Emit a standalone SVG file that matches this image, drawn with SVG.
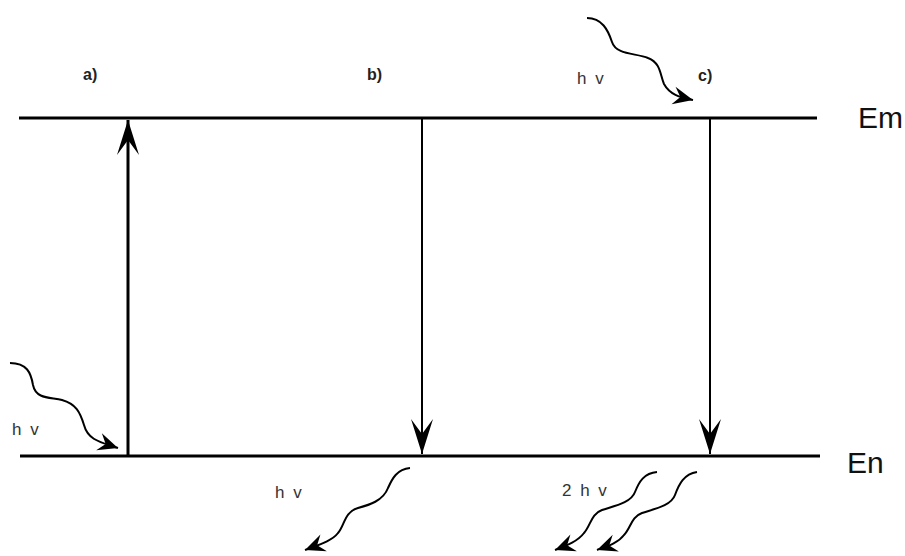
<svg xmlns="http://www.w3.org/2000/svg" width="905" height="556" viewBox="0 0 905 556">
<style>
.lvl{stroke:#000;stroke-width:3;fill:none}
.tr{stroke:#000;fill:none}
.wave{stroke:#000;stroke-width:2;fill:none;marker-end:url(#whead)}
.lab{font-family:"Liberation Sans",Arial,sans-serif;font-weight:bold;font-size:16px;fill:#222}
.hv{font-family:"Liberation Sans",Arial,sans-serif;font-size:17px;fill:#333;letter-spacing:2px}
.en{font-family:"Liberation Sans",Arial,sans-serif;font-size:30px;fill:#111}
</style>
<defs>
<marker id="vhead" viewBox="-36 -12 37 24" markerWidth="37" markerHeight="24" refX="0" refY="0" orient="auto" markerUnits="userSpaceOnUse">
<path d="M0,0 L-35,-11 L-20,0 L-35,11 Z" fill="#000"/>
</marker>
<marker id="whead" viewBox="-21 -10 22 20" markerWidth="22" markerHeight="20" refX="0" refY="0" orient="auto" markerUnits="userSpaceOnUse">
<path d="M0,0 L-20,-9 L-13,0 L-20,9 Z" fill="#000"/>
</marker>
</defs>
<rect width="905" height="556" fill="#fff"/>
<g id="level-Em">
<line class="lvl" x1="19" y1="118" x2="817" y2="118"/>
<text class="en" x="858" y="128">Em</text>
</g>
<g id="level-En">
<line class="lvl" x1="20" y1="456" x2="820" y2="456"/>
<text class="en" x="847" y="473">En</text>
</g>
<g id="label-a"><text class="lab" x="83" y="80">a)</text></g>
<g id="label-b"><text class="lab" x="367" y="80">b)</text></g>
<g id="label-c"><text class="lab" x="698" y="81">c)</text></g>
<g id="photon-labels">
<text class="hv" x="12" y="435">h v</text>
<text class="hv" x="577" y="84">h v</text>
<text class="hv" x="275" y="498">h v</text>
<text class="hv" x="562" y="496">2 h v</text>
</g>
<g id="connectors">
<line class="tr" stroke-width="3" x1="128" y1="456" x2="128" y2="120" marker-end="url(#vhead)"/>
<line class="tr" stroke-width="2" x1="422" y1="118" x2="422" y2="454" marker-end="url(#vhead)"/>
<line class="tr" stroke-width="2" x1="710" y1="118" x2="710" y2="454" marker-end="url(#vhead)"/>
<path class="wave" d="M10,363 C27,363 31,373 33,385 C36,400 52,397 62,400 C76,404 80,412 84,425 C88,440 100,442 118,448"/>
<path class="wave" d="M587,18 C602,18 608,30 612,42 C616,55 636,53 648,58 C661,63 660,75 664,84 C670,95 680,97 693,100"/>
<path class="wave" d="M410,468 C397,469 392,479 388,488 C383,501 369,505 358,508 C344,512 345,525 338,533 C332,541 318,545 305,550"/>
<path class="wave" d="M657,472 C644,473 639,482 635,492 C631,503 614,506 602,510 C591,514 591,525 584,533 C578,541 568,545 555,550"/>
<path class="wave" d="M697,472 C684,474 679,484 675,495 C671,506 654,509 642,513 C631,517 631,528 624,535 C618,543 608,546 597,550"/>
</g>
</svg>
